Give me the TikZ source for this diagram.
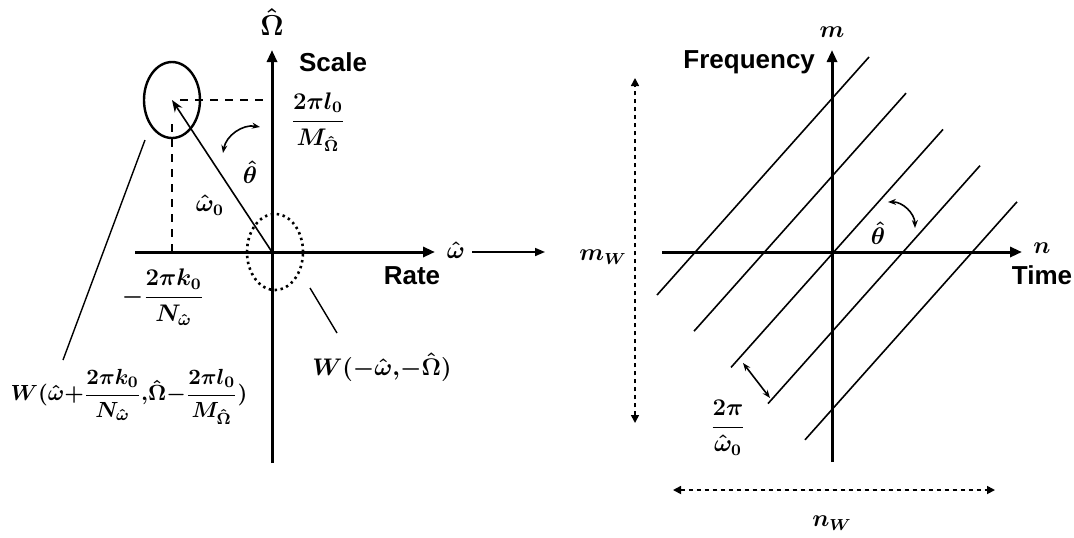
\documentclass[tikz,border=0pt]{standalone}
\usepackage{amsmath}
\usepackage{fontspec}
\setsansfont{Liberation Sans}
\usetikzlibrary{arrows.meta,shapes.geometric}
\tikzset{
  axis/.style={line width=1.5pt,-{Triangle[length=6pt,width=5pt]}},
  word/.style={font=\sffamily\bfseries\fontsize{13}{15}\selectfont},
  sym/.style={font=\fontsize{11.5}{14}\selectfont\boldmath},
  guide/.style={line width=1.2pt,dash pattern=on 4pt off 3.5pt},
  span/.style={line width=0.8pt,dash pattern=on 2pt off 2pt,{Triangle[length=4pt,width=4pt]}-{Triangle[length=4pt,width=4pt]}},
  stripe/.style={line width=0.8pt},
  turn/.style={line width=0.8pt,{Stealth[length=4pt]}-{Stealth[length=4pt]}},
}
\begin{document}
\begin{tikzpicture}[x=0.5pt,y=-0.5pt]
\useasboundingbox (0,0) rectangle (1074,537);
% rate-scale plane
\coordinate (o1) at (272,252);
\coordinate (ybot) at (272,463);
\coordinate (ytop) at (272,50);
\coordinate (xleft) at (135,252);
\coordinate (xright) at (435,252);
\draw[axis] (ybot) -- (ytop);
\draw[axis] (xleft) -- (xright);
\node[font=\fontsize{15}{17}\selectfont\boldmath] (omhat) at (272,22) {$\hat{\boldsymbol{\Omega}}$};
\node[word,anchor=west] (scale) at (292,62) {Scale};
\node[sym] (whatax) at (456,250) {$\hat{\omega}$};
\node[word] (rate) at (412,276) {Rate};
\node[draw,ellipse,line width=1.2pt,minimum width=28pt,minimum height=38pt,inner sep=0pt] (win) at (172,100) {};
\node[draw,ellipse,line width=1.3pt,dash pattern=on 1.2pt off 1.8pt,minimum width=28pt,minimum height=38pt,inner sep=0pt] (wout) at (275,252) {};
\coordinate (kx) at (172,252);
\coordinate (ly) at (268,100);
\draw[guide] ([xshift=4pt]win.center) -- (ly);
\draw[guide] ([yshift=-12pt]win.center) -- (kx);
\draw[line width=0.8pt,-{Stealth[length=6pt]}] (o1) -- (win.center);
\coordinate (ta) at (223,153);
\coordinate (tb) at (260,127);
\draw[turn] (ta) to[bend left=45] (tb);
\node[sym] (theta1) at (250,172) {$\hat{\theta}$};
\node[sym] (w0) at (210,205) {$\hat{\omega}_0$};
\node[sym] (lfrac) at (318,122) {$\dfrac{2\pi l_0}{M_{\hat{\Omega}}}$};
\node[sym] (kfrac) at (163,297) {${-}\dfrac{2\pi k_0}{N_{\hat{\omega}}}$};
\node[sym,font=\fontsize{11}{13}\selectfont\boldmath,inner sep=0pt] (wlab) at (129,397) {$W(\hat{\omega}{+}\dfrac{2\pi k_0}{N_{\hat{\omega}}},\!\hat{\Omega}{-}\dfrac{2\pi l_0}{M_{\hat{\Omega}}})$};
\node[sym] (wneg) at (382,367) {$W({-}\hat{\omega},\!{-}\hat{\Omega})$};
\coordinate (wa) at (145,140);
\coordinate (wb) at (63,360);
\draw[line width=0.7pt] (wa) -- (wb);
\coordinate (wc) at (310,288);
\coordinate (wd) at (337,333);
\draw[line width=0.7pt] (wc) -- (wd);
% map to time-frequency plane
\coordinate (ma) at (472,252);
\coordinate (mb) at (545,252);
\draw[line width=0.8pt,-{Triangle[length=5pt,width=4pt]}] (ma) -- (mb);
% time-frequency plane
\coordinate (o2) at (832,252);
\coordinate (mbot) at (832,462);
\coordinate (mtop) at (832,50);
\coordinate (nleft) at (662,252);
\coordinate (nright) at (1022,252);
\foreach \i in {0,...,4}
  \draw[stripe] ({657+37*\i},{295+36.2*\i}) -- ++(212,-238);
\draw[axis] (mbot) -- (mtop);
\draw[axis] (nleft) -- (nright);
\node[sym] (mlab) at (832,32) {$m$};
\node[word,anchor=east] (freq) at (822,62) {Frequency};
\node[sym] (nlab) at (1042,248) {$n$};
\node[word] (time) at (1042,275) {Time};
\node[sym] (mw) at (603,257) {$m_W$};
\node[sym] (nw) at (832,523) {$n_W$};
\coordinate (ra) at (888,202);
\coordinate (rb) at (915,228);
\draw[turn] (ra) to[bend left=45] (rb);
\node[sym] (theta2) at (878,233) {$\hat{\theta}$};
\coordinate (sa) at (743,363);
\coordinate (sb) at (770,398);
\draw[turn] (sa) -- (sb);
\node[sym] (period) at (728,428) {$\dfrac{2\pi}{\hat{\omega}_0}$};
\coordinate (va) at (635,423);
\coordinate (vb) at (635,78);
\draw[span] (va) -- (vb);
\coordinate (ha) at (673,490);
\coordinate (hb) at (995,490);
\draw[span] (ha) -- (hb);
\end{tikzpicture}
\end{document}
